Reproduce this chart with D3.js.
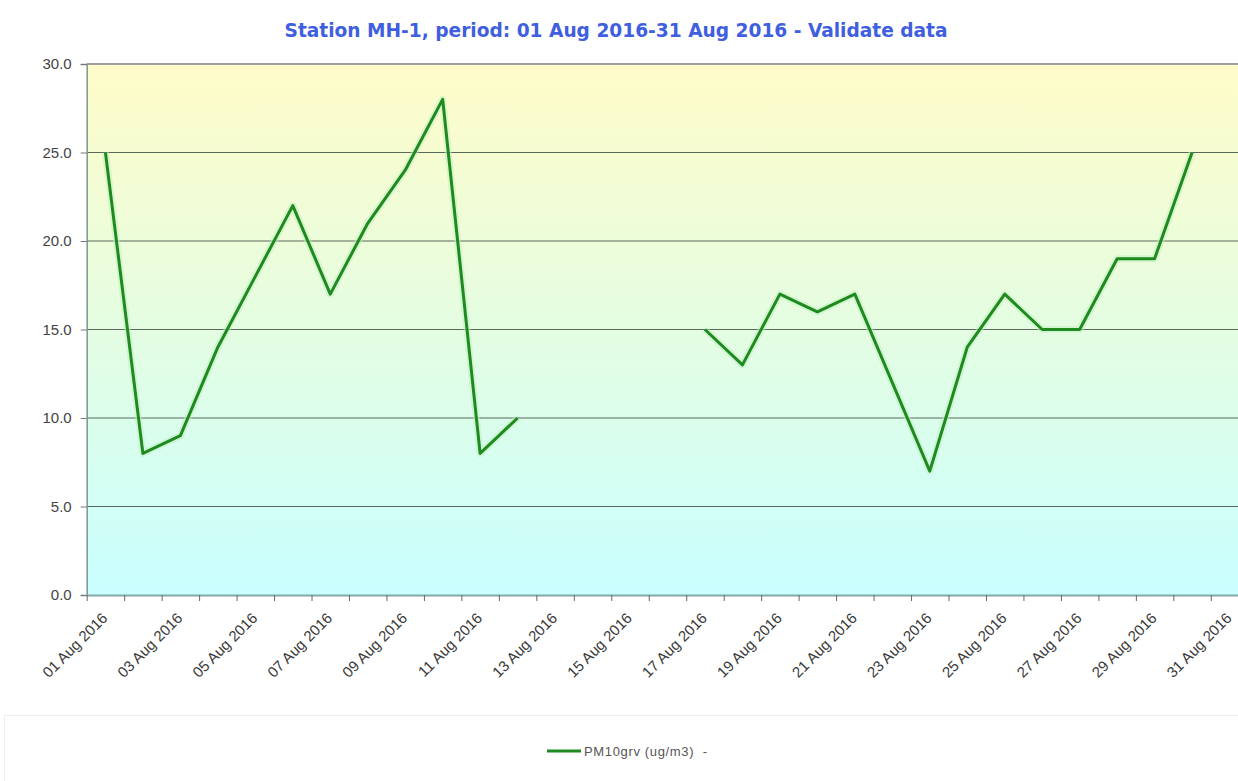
<!DOCTYPE html>
<html>
<head>
<meta charset="utf-8">
<script src="https://cdn.jsdelivr.net/npm/d3@7"></script>
<style>
  html, body { margin: 0; padding: 0; background: #fff; overflow: hidden; }
  svg { display: block; }
</style>
</head>
<body>
<div id="chart"></div>
<script>
// data
const days = [
  "01 Aug 2016", "02 Aug 2016", "03 Aug 2016", "04 Aug 2016", "05 Aug 2016",
  "06 Aug 2016", "07 Aug 2016", "08 Aug 2016", "09 Aug 2016", "10 Aug 2016",
  "11 Aug 2016", "12 Aug 2016", "13 Aug 2016", "14 Aug 2016", "15 Aug 2016",
  "16 Aug 2016", "17 Aug 2016", "18 Aug 2016", "19 Aug 2016", "20 Aug 2016",
  "21 Aug 2016", "22 Aug 2016", "23 Aug 2016", "24 Aug 2016", "25 Aug 2016",
  "26 Aug 2016", "27 Aug 2016", "28 Aug 2016", "29 Aug 2016", "30 Aug 2016",
  "31 Aug 2016"
];
const pm10 = [25, 8, 9, 14, 18, 22, 17, 21, 24, 28, 8, 10, null, null, null, null,
  15, 13, 17, 16, 17, 12, 7, 14, 17, 15, 15, 19, 19, 25, null];
const yTicks = [0, 5, 10, 15, 20, 25, 30];
const titleText = "Station MH-1, period: 01 Aug 2016-31 Aug 2016 - Validate data";
const seriesName = "PM10grv (ug/m3)  -";

const width = 1238, height = 781;
const margin = {top: 64, left: 86.7, bottom: 595};
const band = 37.47;

const svg = d3.select("#chart").append("svg")
  .attr("width", width).attr("height", height);

const defs = svg.append("defs");
const grad = defs.append("linearGradient").attr("id", "bg")
  .attr("x1", 0).attr("y1", 0).attr("x2", 0).attr("y2", 1);
grad.append("stop").attr("offset", "0%").attr("stop-color", "#fffcc9");
grad.append("stop").attr("offset", "50%").attr("stop-color", "#e4fde2");
grad.append("stop").attr("offset", "100%").attr("stop-color", "#c9ffff");

const x = d3.scaleBand().domain(days)
  .range([margin.left, margin.left + band * days.length]).padding(0);
const xb = d3.scaleLinear().domain([0, days.length])
  .range([margin.left, margin.left + band * days.length]);
const y = d3.scaleLinear().domain([0, 30]).range([margin.bottom, margin.top]);

// plot background
svg.append("rect")
  .attr("x", margin.left).attr("y", margin.top)
  .attr("width", width - margin.left + 2).attr("height", margin.bottom - margin.top)
  .attr("fill", "url(#bg)");

// grid lines
svg.append("g")
  .selectAll("line")
  .data(yTicks.filter(d => d > 0 && d < 30))
  .join("line")
  .attr("x1", margin.left).attr("x2", width)
  .attr("y1", d => y(d)).attr("y2", d => y(d))
  .attr("stroke", "#5a6a5a").attr("stroke-width", 1.2);

// top border
svg.append("line")
  .attr("x1", margin.left).attr("x2", width)
  .attr("y1", y(30)).attr("y2", y(30))
  .attr("stroke", "#a0a0a0").attr("stroke-width", 2);

// y axis
const yAxis = svg.append("g")
  .attr("transform", `translate(${margin.left},0)`)
  .call(d3.axisLeft(y).tickValues(yTicks).tickFormat(d3.format(".1f")).tickSize(6).tickPadding(9));
yAxis.select(".domain").attr("stroke", "#7f9595").attr("stroke-width", 1.5);
yAxis.selectAll(".tick line").attr("stroke", "#777");
yAxis.selectAll("text")
  .attr("fill", "#444")
  .style("font", "15px 'Liberation Sans', Arial, sans-serif");

// x axis: ticks on category boundaries
const xAxis = svg.append("g")
  .attr("transform", `translate(0,${margin.bottom})`)
  .call(d3.axisBottom(xb).tickValues(d3.range(0, days.length)).tickFormat("").tickSize(6).tickSizeOuter(0));
xAxis.select(".domain").attr("stroke", "#86aaaa").attr("stroke-width", 2);
xAxis.selectAll(".tick line").attr("stroke", "#666");

// category labels, every other day, at band centres
svg.append("g")
  .selectAll("text")
  .data(days.filter((d, i) => i % 2 === 0))
  .join("text")
  .attr("transform", d => `translate(${x(d) + x.bandwidth() / 2 + 3},${margin.bottom + 24}) rotate(-45)`)
  .attr("text-anchor", "end")
  .attr("fill", "#3a3a3a")
  .style("font", "15px 'Liberation Sans', Arial, sans-serif")
  .text(d => d);

// series line
const line = d3.line()
  .defined(d => d.v != null)
  .x(d => x(d.day) + x.bandwidth() / 2)
  .y(d => y(d.v));
const pts = days.map((d, i) => ({day: d, v: pm10[i]}));

svg.append("path")
  .datum(pts)
  .attr("fill", "none")
  .attr("stroke", "#bff0bf").attr("stroke-width", 7).attr("opacity", 0.5)
  .attr("stroke-linejoin", "round")
  .attr("d", line);
svg.append("path")
  .datum(pts)
  .attr("fill", "none")
  .attr("stroke", "#1f8a1f").attr("stroke-width", 3)
  .attr("stroke-linejoin", "round")
  .attr("d", line);

// title
svg.append("text")
  .attr("x", 616).attr("y", 37)
  .attr("text-anchor", "middle")
  .attr("fill", "#3f5fe0")
  .attr("textLength", 663).attr("lengthAdjust", "spacingAndGlyphs")
  .style("font", "bold 20px 'DejaVu Sans Condensed', 'DejaVu Sans', sans-serif")
  .text(titleText);

// legend
const lg = svg.append("g");
lg.append("rect")
  .attr("x", 4.5).attr("y", 715.5).attr("width", width + 10).attr("height", 80)
  .attr("fill", "#fff").attr("stroke", "#eeeeee");
lg.append("line")
  .attr("x1", 547).attr("x2", 581).attr("y1", 751).attr("y2", 751)
  .attr("stroke", "#1f8a1f").attr("stroke-width", 3);
lg.append("text")
  .attr("x", 584).attr("y", 756)
  .attr("fill", "#555")
  .attr("xml:space", "preserve")
  .attr("textLength", 123).attr("lengthAdjust", "spacing")
  .style("white-space", "pre")
  .style("font", "13px 'Liberation Sans Narrow', 'Liberation Sans', Arial, sans-serif")
  .text(seriesName);
</script>
</body>
</html>
